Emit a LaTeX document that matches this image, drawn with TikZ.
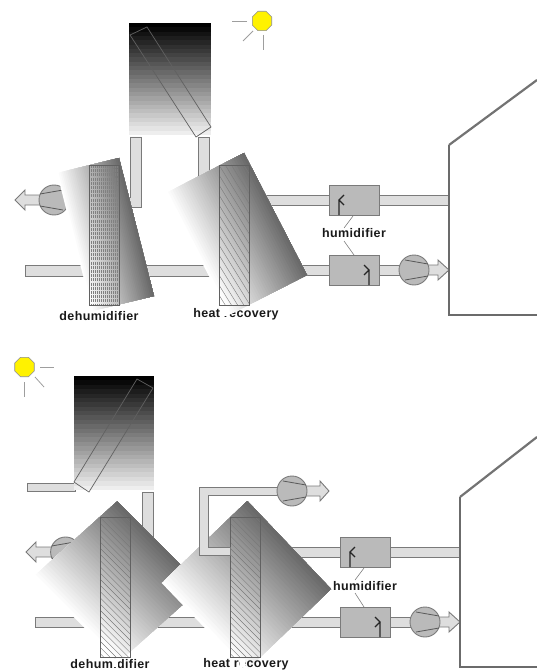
\documentclass[tikz,border=0pt]{standalone}
\usepackage{fontspec}
\setmainfont{Liberation Sans}
\usetikzlibrary{calc,shapes.geometric}
\tikzset{
 stip/.style={draw=black!52,line width=.9pt},
 duct/.style={stip,fill=black!13},
 unitbox/.style={stip,fill=black!27},
 fanbody/.style={stip,fill=black!27},
 blade/.style={draw=black!65,line width=.8pt},
 wheelbox/.style={draw=black!62,line width=.9pt},
 lab/.style={font=\bfseries\fontsize{12.5}{13}\selectfont\addfontfeatures{LetterSpace=3},inner sep=0pt,text=black!90},
 ray/.style={draw=black!38,line width=.8pt},
 leader/.style={draw=black!50,line width=.6pt},
 chev/.style={draw=black!85,line width=1.1pt},
 roof/.style={draw=black!55,line width=2.2pt},
 wall/.style={draw=black!58,line width=1.7pt},
 sunbody/.style={fill=yellow,draw=black!45,line width=.6pt},
 coll/.style={draw=black!62,line width=.7pt},
}
\newcommand{\gradquad}[7]{%
 \foreach \i in {1,...,#7}{%
  \pgfmathsetmacro\tt{(\i-1)/#7}%
  \pgfmathsetmacro\gg{#5+(#6-#5)*\tt}%
  \fill[black!\gg] ($#1!\tt!#2$) -- #2 -- #3 -- ($#4!\tt!#3$) -- cycle;
 }}
% fan: centre, sign (+1 flow right, -1 flow left), name
\newcommand{\fan}[4]{%
 \node[circle,fanbody,minimum size=30pt,inner sep=0pt] (#4) at (#1,#2) {};
 \draw[blade] ($(#4)+(-9*#3,-10)$) -- ($(#4)+(14*#3,-6)$);
 \draw[blade] ($(#4)+(-9*#3,10)$) -- ($(#4)+(14*#3,6)$);
}
% hatched wheel: x0,y0,x1,y1, slope dx per dy, name
\newcommand{\hatchwheel}[6]{%
 \begin{scope}
 \clip (#1,#2) rectangle (#3,#4);
 \foreach \k in {-24,...,12}{%
  \draw[black!52,line width=.4pt] ({#1+\k*6.2},#2) -- ({#1+\k*6.2+(#4-#2)*#5},#4);
 }
 \end{scope}
 \node[wheelbox,minimum width=30pt,minimum height={#4-#2},inner sep=0pt,anchor=north west] (#6) at (#1,#2) {};
}
\begin{document}
\begin{tikzpicture}[x=1pt,y=-1pt]
\useasboundingbox (0,0) rectangle (537,671);
%%%%%% upper system
% sun
\node[regular polygon,regular polygon sides=8,sunbody,minimum size=21pt,inner sep=0pt] (sunA) at (262,21) {};
\coordinate (sa1) at (247,21); \coordinate (sa1e) at (232,21);
\coordinate (sa2) at (253,31); \coordinate (sa2e) at (243,41);
\coordinate (sa3) at (263,35); \coordinate (sa3e) at (263,50);
\draw[ray] (sa1)--(sa1e); \draw[ray] (sa2)--(sa2e); \draw[ray] (sa3)--(sa3e);
% ducts
\draw[duct] (130,137)--(141,137)--(141,207)--(100,207)--(100,197)--(130,197)--cycle;
\draw[duct] (198,137) rectangle (209,190);
\draw[duct] (25,265) rectangle (210,276);
\draw[duct] (240,195) rectangle (329,205);
\draw[duct] (379,195) rectangle (449,205);
\draw[duct] (270,265) rectangle (329,275);
\draw[duct] (379,265) rectangle (400,275);
\draw[duct] (15,200)--(25,190)--(25,195)--(45,195)--(45,205)--(25,205)--(25,210)--cycle;
\fan{54}{200}{-1}{fanA}
\draw[duct] (425,265)--(438,265)--(438,260)--(449,270)--(438,280)--(438,275)--(425,275)--cycle;
\fan{414}{270}{1}{fanB}
% units
\node[unitbox,minimum width=50pt,minimum height=30pt,inner sep=0pt] (humA) at (354,200) {};
\node[unitbox,minimum width=50pt,minimum height=30pt,inner sep=0pt] (humB) at (354,270) {};
\draw[chev] (339,215)--(339,200) (344,195)--(339,200)--(344,205);
\draw[chev] (369,285)--(369,270) (364,265)--(369,270)--(364,275);
\node[lab] (humlabA) at (354,233) {humidifier};
\draw[leader] (353,216)--(344,228);
\draw[leader] (344,241)--(354,255);
% collector
\gradquad{(129,23)}{(129,135)}{(211,135)}{(211,23)}{100}{3}{26}
\draw[coll] (130,35)--(147,27)--(211,127)--(196,137)--cycle;
% labels
\node[lab] (dehumA) at (99,316) {dehumidifier};
\node[lab] (heatA) at (236,314) {heat recovery};
% wheel sweeps
\gradquad{(57,173)}{(119,158)}{(154,296)}{(92,311)}{0}{60}{36}
\gradquad{(166,193)}{(244,153)}{(307,275)}{(229,315)}{0}{60}{36}
% dehumidifier matrix
\begin{scope}
 \clip (89,165) rectangle (119,305);
 \foreach \k in {0,...,15}{\draw[black!50,line width=.5pt,dash pattern=on 3pt off 1.2pt] ({89+\k*2},165) -- ({89+\k*2},305);}
\end{scope}
\node[wheelbox,minimum width=30pt,minimum height=140pt,inner sep=0pt,anchor=north west] (wheelA) at (89,165) {};
\hatchwheel{219}{165}{249}{305}{.62}{wheelB}
\fill[white] (223.5,307)--(229,307)--(229,316)--(223.5,316)--cycle;
% house
\draw[wall] (449,145)--(449,315)--(537,315);
\draw[roof] (449,145)--(537,80);
%%%%%% lower system
\node[regular polygon,regular polygon sides=8,sunbody,minimum size=21pt,inner sep=0pt] (sunB) at (24.5,367) {};
\draw[ray] (40,367)--(54,367); \draw[ray] (35,377)--(44,387); \draw[ray] (24.5,382)--(24.5,397);
% ducts
\draw[duct] (27,483) rectangle (75,491);
\draw[duct] (142,492)--(153,492)--(153,557)--(90,557)--(90,547)--(142,547)--cycle;
\draw[duct] (35,617) rectangle (210,627);
\draw[duct] (250,547) rectangle (340,557);
\draw[duct] (390,547) rectangle (460,557);
\draw[duct] (270,617) rectangle (340,627);
\draw[duct] (390,617) rectangle (411,627);
\draw[duct] (26,552)--(36,542)--(36,547)--(56,547)--(56,557)--(36,557)--(36,562)--cycle;
\fan{65.6}{552}{-1}{fanC}
\draw[duct] (436,617)--(449,617)--(449,612)--(460,622)--(449,632)--(449,627)--(436,627)--cycle;
\fan{425}{622}{1}{fanD}
\node[unitbox,minimum width=50pt,minimum height=30pt,inner sep=0pt] (humC) at (365,552) {};
\node[unitbox,minimum width=50pt,minimum height=30pt,inner sep=0pt] (humD) at (365,622) {};
\draw[chev] (350,567)--(350,552) (355,547)--(350,552)--(355,557);
\draw[chev] (380,637)--(380,622) (375,617)--(380,622)--(375,627);
\node[lab] (humlabB) at (365,586) {humidifier};
\draw[leader] (364,568)--(355,580);
\draw[leader] (355,593)--(364,607);
% collector
\gradquad{(74,376)}{(74,490)}{(154,490)}{(154,376)}{100}{3}{26}
\draw[coll] (74,482)--(137,379)--(153,388)--(89,492)--cycle;
% wheel sweeps
\gradquad{(33.3,576.7)}{(117.3,501.3)}{(202.7,586.7)}{(118.7,662)}{0}{60}{36}
\gradquad{(161.7,583)}{(247.3,501)}{(331,589)}{(246,671)}{0}{60}{36}
% labels
\node[lab] (dehumB) at (110,664.5) {dehumidifier};
\node[lab] (heatB) at (246,664.5) {heat recovery};
\hatchwheel{100}{517}{130}{657}{1}{wheelC}
\hatchwheel{230}{517}{260}{657}{1}{wheelD}
\fill[white] (113,659)--(117.5,659)--(117.5,666.5)--(113,666.5)--cycle;
\fill[white] (240,658.5)--(245,658.5)--(245,666.5)--(240,666.5)--cycle;
% return duct and fan
\draw[duct] (230,547)--(230,555)--(199,555)--(199,487)--(278,487)--(278,495)--(208,495)--(208,547)--cycle;
\draw[duct] (305,486)--(320,486)--(320,481)--(329,491)--(320,501)--(320,496)--(305,496)--cycle;
\fan{292}{491}{1}{fanE}
% house
\draw[wall] (460,497)--(460,667)--(537,667);
\draw[roof] (460,497)--(537,437);
\end{tikzpicture}
\end{document}
